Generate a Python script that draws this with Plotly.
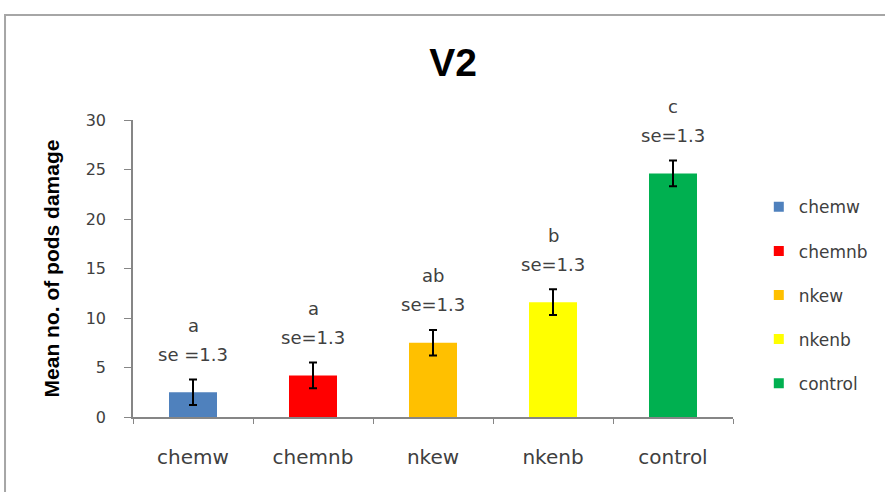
import plotly.graph_objects as go

categories = ["chemw", "chemnb", "nkew", "nkenb", "control"]
means = [2.5, 4.2, 7.5, 11.6, 24.6]
se_values = [1.3, 1.3, 1.3, 1.3, 1.3]
letters = ["a", "a", "ab", "b", "c"]
se_labels = ["se =1.3", "se=1.3", "se=1.3", "se=1.3", "se=1.3"]
colors = ["#4F81BD", "#FF0000", "#FFC000", "#FFFF00", "#00B050"]
y_ticks = [0, 5, 10, 15, 20, 25, 30]

FONT = "DejaVu Sans"
TXT = "#404040"
fig = go.Figure()
for i, cat in enumerate(categories):
    fig.add_trace(go.Bar(
        x=[cat], y=[means[i]], name=cat, width=0.4, showlegend=False,
        marker=dict(color=colors[i], line=dict(width=0)),
        error_y=dict(type="data", array=[se_values[i]], color="black", thickness=2, width=4),
    ))
    fig.add_annotation(x=cat, y=means[i], yanchor="middle", yshift=38,
                       text=se_labels[i], showarrow=False,
                       font=dict(family=FONT, size=18, color=TXT))
    fig.add_annotation(x=cat, y=means[i], yanchor="middle", yshift=67,
                       text=letters[i], showarrow=False,
                       font=dict(family=FONT, size=18, color=TXT))

for i, cat in enumerate(categories):
    fig.add_trace(go.Scatter(
        x=[None], y=[None], mode="markers", name=cat,
        marker=dict(symbol="square", size=10, color=colors[i]),
        legendgroup=cat, showlegend=True,
    ))

fig.add_shape(type="rect", xref="paper", yref="paper",
              x0=-0.2133, x1=1.5, y0=-0.5, y1=1.3535,
              line=dict(color="#A6A6A6", width=2), layer="below")

fig.update_layout(
    width=885, height=492,
    margin=dict(l=133, r=152, t=120, b=75, autoexpand=False),
    barmode="overlay",
    plot_bgcolor="white", paper_bgcolor="white",
    title=dict(text="<b>V2</b>", x=453 / 885, xref="container", xanchor="center",
               y=1 - 62 / 492, yref="container", yanchor="middle",
               font=dict(family="Liberation Sans", size=39, color="black")),
    showlegend=True,
    legend=dict(x=1.043, xanchor="left", y=0.41, yanchor="middle",
                font=dict(family=FONT, size=17, color=TXT),
                tracegroupgap=19, itemwidth=30),
    font=dict(family=FONT),
)
fig.update_xaxes(showline=True, linecolor="#868686", linewidth=1.5, automargin=False,
                 ticks="outside", tickson="boundaries", ticklen=5, tickcolor="#868686",
                 tickfont=dict(family=FONT, size=20, color=TXT),
                 ticklabelstandoff=21, showgrid=False)
fig.update_yaxes(range=[0, 30], tickvals=y_ticks, showline=True, linecolor="#868686",
                 linewidth=1.5, ticks="outside", ticklen=7, tickcolor="#868686",
                 tickfont=dict(family=FONT, size=16, color=TXT), automargin=False,
                 ticklabelstandoff=15, showgrid=False, zeroline=False,
                 title=dict(text="<b>Mean no. of pods damage</b>", standoff=20,
                            font=dict(family="Liberation Sans", size=21, color="black")))

fig.write_html("out.html", config={"displayModeBar": False},
               post_script="document.body.style.margin='0';")
